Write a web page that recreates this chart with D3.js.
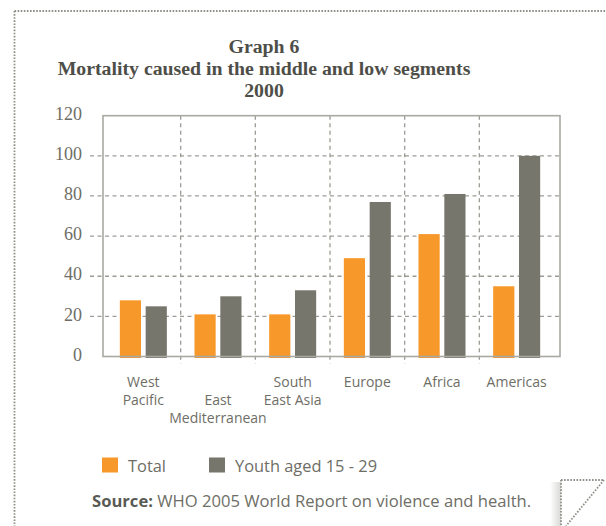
<!DOCTYPE html>
<html>
<head>
<meta charset="utf-8">
<script src="https://cdn.jsdelivr.net/npm/d3@7"></script>
<style>
  html, body { margin: 0; padding: 0; background: #fff; }
  svg { display: block; }
</style>
</head>
<body>
<svg id="chart" width="606" height="526"></svg>
<script>
// Regions and their mortality figures (year 2000)
const categories = ["West Pacific", "East Mediterranean", "South East Asia", "Europe", "Africa", "Americas"];
const categoryLines = [["West", "Pacific"], ["", "East", "Mediterranean"], ["South", "East Asia"], ["Europe"], ["Africa"], ["Americas"]];
const seriesNames = ["Total", "Youth aged 15 - 29"];
const totalValues = [28, 21, 21, 49, 61, 35];
const youthValues = [25, 30, 33, 77, 81, 100];
const yTicks = [0, 20, 40, 60, 80, 100, 120];
const titleLines = ["Graph 6", "Mortality caused in the middle and low segments", "2000"];

const colors = ["#f7982a", "#77766c"];
const textColor = "#6e6e66";
const frameColor = "#a9a9a2";
const gridColor = "#9c9c94";

const svg = d3.select("#chart");

// Dotted page border
const border = svg.append("g")
  .attr("fill", "none")
  .attr("stroke", "#8f8f88")
  .attr("stroke-width", 1.8)
  .attr("stroke-dasharray", "1.6,1.5");
border.append("line").attr("x1", 14.5).attr("y1", 11).attr("x2", 606).attr("y2", 11);
border.append("line").attr("x1", 14.5).attr("y1", 11).attr("x2", 14.5).attr("y2", 526);

// Title
svg.append("g").selectAll("text")
  .data(titleLines)
  .join("text")
  .attr("x", 264)
  .attr("y", (d, i) => 52.5 + i * 22)
  .attr("text-anchor", "middle")
  .attr("font-family", "'Liberation Serif', serif")
  .attr("font-weight", "bold")
  .attr("font-size", 19.8)
  .attr("fill", "#4e4e48")
  .text(d => d);

// Plot geometry
const plot = { left: 103, right: 560, top: 115.7, bottom: 356.5 };

const y = d3.scaleLinear().domain([0, 120]).range([plot.bottom, plot.top]);
const x0 = d3.scaleBand().domain(categories).range([106, 554]);
const pairWidth = 47;
const x1 = d3.scaleBand().domain(seriesNames).range([0, pairWidth]).paddingInner(0.18);

// Horizontal dashed gridlines
svg.append("g")
  .selectAll("line")
  .data(yTicks.filter(t => t > 0 && t < 120))
  .join("line")
  .attr("x1", 90).attr("x2", plot.right)
  .attr("y1", d => y(d)).attr("y2", d => y(d))
  .attr("stroke", gridColor)
  .attr("stroke-width", 1.3)
  .attr("stroke-dasharray", "4,3.5");

// Vertical dashed separators between regions
svg.append("g")
  .selectAll("line")
  .data(categories.slice(1))
  .join("line")
  .attr("x1", d => x0(d)).attr("x2", d => x0(d))
  .attr("y1", plot.top).attr("y2", plot.bottom + 7)
  .attr("stroke", gridColor)
  .attr("stroke-width", 1.3)
  .attr("stroke-dasharray", "4,3.5");

// Bars
const rows = categories.map((c, i) => ({ category: c, values: [totalValues[i], youthValues[i]] }));
svg.append("g")
  .selectAll("g")
  .data(rows)
  .join("g")
  .attr("transform", d => `translate(${x0(d.category) + (x0.bandwidth() - pairWidth) / 2},0)`)
  .selectAll("rect")
  .data(d => d.values.map((v, k) => ({ key: seriesNames[k], value: v, k })))
  .join("rect")
  .attr("x", d => x1(d.key))
  .attr("width", x1.bandwidth())
  .attr("y", d => y(d.value))
  .attr("height", d => y(0) - y(d.value) + 1.5)
  .attr("fill", d => colors[d.k]);

// Frame
svg.append("rect")
  .attr("x", plot.left).attr("y", plot.top)
  .attr("width", plot.right - plot.left).attr("height", plot.bottom - plot.top)
  .attr("fill", "none")
  .attr("stroke", frameColor)
  .attr("stroke-width", 1.6);

// Y axis labels
const yAxis = d3.axisLeft(y).tickValues(yTicks).tickSize(0).tickPadding(0);
const yg = svg.append("g").attr("transform", "translate(82,-2)").call(yAxis);
yg.select(".domain").remove();
yg.selectAll("text")
  .attr("font-family", "'Liberation Serif', serif")
  .attr("font-size", 18)
  .attr("fill", textColor);

// Category labels
const xl = svg.append("g").selectAll("text")
  .data(categories)
  .join("text")
  .attr("x", d => x0(d) + x0.bandwidth() / 2)
  .attr("y", 386.5)
  .attr("text-anchor", "middle")
  .attr("font-family", "'Open Sans', sans-serif")
  .attr("font-size", 14)
  .attr("fill", textColor);
xl.selectAll("tspan")
  .data((d, i) => categoryLines[i])
  .join("tspan")
  .attr("x", function () { return d3.select(this.parentNode).attr("x"); })
  .attr("dy", (d, i) => i === 0 ? 0 : 18)
  .text(d => d);

// Legend
const legend = svg.append("g");
const legendX = [102, 209];
seriesNames.forEach((name, i) => {
  legend.append("rect")
    .attr("x", legendX[i]).attr("y", 457.5)
    .attr("width", 16).attr("height", 15)
    .attr("fill", colors[i]);
  legend.append("text")
    .attr("x", legendX[i] + 26).attr("y", 471.5)
    .attr("font-family", "'Open Sans', sans-serif")
    .attr("font-size", 16.4)
    .attr("fill", textColor)
    .text(name);
});

// Source note
const src = svg.append("text")
  .attr("x", 92).attr("y", 507)
  .attr("font-family", "'Open Sans', sans-serif")
  .attr("font-size", 16.6)
  .attr("fill", textColor);
src.append("tspan").attr("font-weight", "bold").attr("fill", "#5a5a54").text("Source:");
src.append("tspan").text(" WHO 2005 World Report on violence and health.");

// Folded page corner
const defs = svg.append("defs");
const grad = defs.append("linearGradient").attr("id", "curlShade").attr("x1", 0).attr("x2", 1);
grad.append("stop").attr("offset", 0).attr("stop-color", "#fff");
grad.append("stop").attr("offset", 1).attr("stop-color", "#d8d8d6");
svg.append("rect").attr("x", 550).attr("y", 482).attr("width", 11).attr("height", 44).attr("fill", "url(#curlShade)");
svg.append("rect").attr("x", 561).attr("y", 480).attr("width", 45).attr("height", 46).attr("fill", "#fff");
const curl = svg.append("g")
  .attr("fill", "none")
  .attr("stroke", "#8f8f88")
  .attr("stroke-width", 1.8)
  .attr("stroke-dasharray", "1.6,1.5");
curl.append("line").attr("x1", 561).attr("y1", 480).attr("x2", 604).attr("y2", 480);
curl.append("line").attr("x1", 561).attr("y1", 480).attr("x2", 561).attr("y2", 526);
curl.append("line").attr("x1", 604).attr("y1", 480).attr("x2", 566).attr("y2", 526);
</script>
</body>
</html>
